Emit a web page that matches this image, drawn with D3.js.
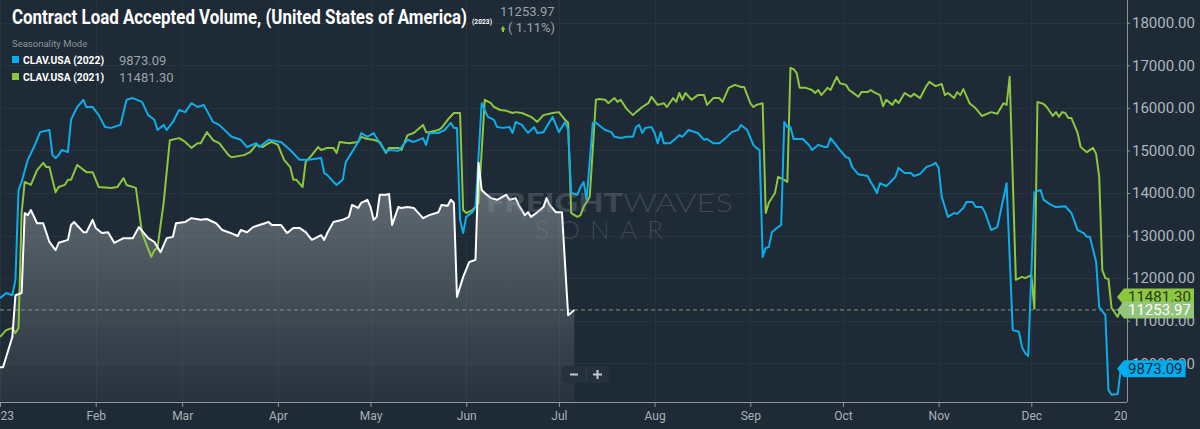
<!DOCTYPE html>
<html>
<head>
<meta charset="utf-8">
<script src="https://cdn.jsdelivr.net/npm/d3@7"></script>
<style>
  html, body { margin: 0; padding: 0; background: #1e2a35; }
  svg { display: block; font-family: Roboto, "Noto Sans", sans-serif; }
</style>
</head>
<body>
<svg id="chart" width="1200" height="429"></svg>
<script>
// seasonality mode: every year is drawn on the 2023 calendar, [day of year, volume]
const clav2023 = [
  [0,9910],[1,9910],[2,10150],[4,10620],[5,11600],[7,11650],[8,13530],[9,13480],[10,13600],[12,13290],
  [14,13290],[16,12850],[18,12660],[19,12830],[22,12900],[23,13250],[24,13320],[27,13080],[28,13080],[30,13370],
  [31,13180],[33,13060],[35,13080],[37,12830],[40,12940],[43,12940],[45,13200],[48,12940],[50,12850],[52,12610],
  [54,12940],[56,12970],[57,13290],[60,13320],[62,13410],[65,13370],[67,13390],[70,13290],[72,13130],[74,13080],
  [77,12990],[78,13130],[80,13080],[82,13200],[84,13250],[87,13320],[88,13250],[91,13250],[93,13060],[95,13180],
  [97,13180],[99,13080],[101,12900],[104,13010],[105,12900],[106,13060],[108,13320],[111,13370],[113,13440],[114,13720],
  [116,13650],[117,13770],[119,13840],[120,13670],[121,13370],[122,13440],[123,13960],[125,13960],[126,13980],[127,13250],
  [129,13670],[130,13650],[132,13670],[134,13650],[137,13410],[139,13480],[142,13550],[143,13720],[145,13700],[146,13840],
  [147,13770],[148,11560],[150,12030],[152,12380],[154,12430],[155,14710],[156,14070],[157,14000],[159,13880],[161,13840],
  [164,13960],[165,13840],[167,13880],[168,13720],[170,13480],[171,13550],[172,13440],[174,13550],[176,13670],[177,13880],
  [178,13720],[180,13550],[182,13550],[184,11130],[186,11253.97]
];

const clav2022 = [
  [0,11530],[2,11650],[4,11600],[5,11960],[6,14070],[7,14260],[9,14780],[11,15080],[13,15430],[16,15480],
  [17,14890],[18,14820],[19,14890],[20,15010],[22,14960],[23,15720],[25,16020],[27,16190],[28,16020],[30,16020],
  [32,15830],[34,15550],[36,15530],[39,15600],[41,16190],[43,16230],[46,16140],[48,15830],[50,15720],[51,15480],
  [53,15600],[54,15480],[56,15670],[58,15950],[60,15900],[62,16110],[64,16020],[66,16070],[69,15670],[71,15600],
  [75,15320],[78,15250],[80,15080],[83,15170],[84,15080],[87,15250],[91,15200],[94,15010],[97,14780],[100,14780],
  [104,14820],[105,14470],[106,14420],[108,14260],[109,14190],[111,14310],[112,14730],[114,14960],[116,15200],[117,15410],
  [119,15320],[121,15410],[123,15170],[125,14960],[126,15010],[129,14990],[130,15080],[132,15250],[134,15200],[137,15290],
  [138,15130],[139,15410],[142,15410],[144,15480],[146,15650],[147,15530],[148,15530],[149,13370],[150,13060],[151,13440],
  [153,13550],[154,13670],[156,16110],[158,15790],[160,15720],[161,15550],[163,15530],[165,15550],[166,15410],[167,15670],
  [169,15600],[171,15410],[173,15550],[174,15410],[176,15430],[179,15790],[181,15430],[183,15670],[184,15480],[185,14000],
  [187,13960],[188,14140],[189,14260],[190,13850],[192,15650],[193,15650],[196,15480],[198,15430],[199,15320],[201,15290],
  [203,15320],[205,15320],[206,15550],[207,15600],[208,15410],[209,15530],[211,15550],[212,15410],[213,15170],[214,15430],
  [215,15170],[217,15170],[219,15290],[220,15360],[221,15320],[223,15480],[226,15410],[228,15250],[229,15270],[231,15170],
  [233,15170],[235,15290],[237,15430],[239,15480],[240,15600],[242,15480],[244,15130],[245,15060],[246,15010],[247,12500],
  [248,12710],[249,12730],[250,13080],[252,13200],[253,13250],[254,15670],[255,15550],[256,15550],[257,15270],[260,15270],
  [262,15130],[263,15010],[265,15130],[267,15080],[268,15080],[269,15290],[270,15200],[272,15010],[274,14840],[275,14820],
  [276,14610],[278,14440],[281,14400],[282,14260],[283,14140],[284,14000],[285,14230],[287,14160],[288,14230],[290,14380],
  [291,14590],[293,14470],[295,14470],[296,14400],[298,14450],[300,14610],[302,14660],[303,14710],[304,14590],[305,13910],
  [307,13440],[309,13530],[310,13510],[312,13650],[313,13790],[315,13790],[316,13670],[318,13670],[319,13550],[321,13130],
  [323,13200],[326,14230],[328,10780],[330,10740],[331,10380],[332,10240],[333,10170],[335,14020],[337,14070],[338,13840],
  [340,13740],[342,13670],[345,13690],[347,13530],[349,13130],[351,13060],[352,12970],[353,12970],[355,12380],[356,11320],
  [358,11130],[359,9370],[360,9260],[362,9280],[363,9873.09]
];

const clav2021 = [
  [0,10620],[2,10780],[4,10830],[5,10710],[6,10830],[7,13530],[8,14260],[10,14190],[12,14540],[14,14710],
  [15,14610],[16,14610],[17,14310],[18,14020],[19,14140],[21,14190],[22,14310],[23,14310],[25,14660],[28,14490],
  [30,14490],[32,14140],[36,14120],[38,14140],[40,14350],[41,14190],[44,14120],[46,13060],[49,12500],[50,12660],
  [51,12710],[53,13770],[55,15240],[58,15290],[60,15200],[62,15060],[64,15170],[65,15170],[67,15430],[69,15240],
  [71,15170],[74,14890],[75,14840],[79,14890],[81,14960],[83,15130],[85,15080],[87,15170],[88,15200],[90,15130],
  [92,14780],[94,14610],[95,14310],[96,14310],[98,14140],[99,14730],[101,14890],[103,15080],[104,15010],[106,15060],
  [108,15060],[109,14940],[110,15200],[113,15170],[116,15200],[117,15320],[119,15270],[121,15250],[123,15200],[125,14940],
  [126,15060],[129,15060],[130,15010],[132,15360],[134,15410],[137,15600],[138,15430],[139,15430],[142,15480],[143,15530],
  [145,15720],[147,15880],[149,15880],[150,13600],[151,13530],[153,13600],[154,13670],[155,13770],[157,16190],[159,16110],
  [160,16020],[162,15950],[164,15930],[166,15880],[167,15900],[169,15880],[172,15790],[174,15670],[176,15830],[179,15880],
  [181,15900],[183,15720],[184,15650],[185,13530],[187,13440],[188,13480],[189,13670],[191,13910],[193,16190],[194,16210],
  [196,16190],[197,16110],[199,16230],[200,16140],[201,16190],[203,15970],[205,15830],[206,15900],[208,16020],[210,16110],
  [211,16260],[213,16070],[215,16110],[216,16020],[218,16230],[219,16140],[220,16350],[221,16190],[222,16350],[224,16190],
  [226,16300],[228,16300],[229,16070],[231,16230],[233,16230],[234,16140],[236,16470],[238,16540],[240,16490],[241,16490],
  [243,16110],[244,16020],[245,16070],[247,16110],[248,13530],[249,13770],[251,14000],[252,14380],[254,14310],[255,14260],
  [256,16940],[257,16910],[258,16820],[259,16470],[261,16470],[263,16420],[264,16350],[265,16420],[266,16300],[268,16470],
  [269,16420],[271,16730],[272,16580],[274,16540],[275,16420],[276,16370],[278,16260],[279,16370],[281,16370],[282,16420],
  [283,16370],[285,16300],[286,16040],[287,16190],[289,16070],[290,16190],[291,16110],[293,16350],[295,16260],[296,16330],
  [298,16230],[300,16510],[301,16610],[303,16510],[305,16560],[306,16300],[307,16350],[309,16230],[310,16370],[311,16300],
  [312,16440],[314,16110],[316,15990],[318,15810],[321,15900],[323,15860],[325,16110],[326,16070],[327,16730],[329,11960],
  [331,12030],[332,12000],[334,12070],[335,11280],[336,16140],[338,16090],[339,16020],[341,15810],[342,15900],[343,15790],
  [344,15900],[345,15880],[346,15760],[347,15760],[349,15410],[350,15080],[352,14960],[354,15060],[355,14920],[356,14380],
  [357,12190],[358,12000],[359,11980],[360,11300],[362,11090],[364,11481.3]
];

const yTicks = [10000, 11000, 12000, 13000, 14000, 15000, 16000, 17000, 18000];
const monthLabels = ["2023", "Feb", "Mar", "Apr", "May", "Jun", "Jul", "Aug", "Sep", "Oct", "Nov", "Dec", "2024"];

const width = 1200;
const height = 429;
const plotRight = 1127;
const plotBottom = 402;
const bg = "#1e2a35";
const blue = "#0daeea";
const green = "#8dc63f";

const dayDate = (d) => new Date(2023, 0, 1 + d);
const fmt = d3.format(".2f");

const x = d3.scaleTime()
  .domain([new Date(2023, 0, 1), new Date(2024, 0, 1)])
  .range([0, plotRight]);

const y = d3.scaleLinear()
  .domain([9091, 18534])
  .range([plotBottom, 0]);

const svg = d3.select("#chart");
const defs = svg.append("defs");

defs.append("clipPath").attr("id", "plot-clip")
  .append("rect").attr("width", plotRight).attr("height", plotBottom);

// the x labels are cut at the right axis, so only "20" of 2024 shows
defs.append("clipPath").attr("id", "xaxis-clip")
  .append("rect").attr("x", 0).attr("y", plotBottom - 2).attr("width", plotRight).attr("height", 30);

const fade = defs.append("linearGradient")
  .attr("id", "area-fade")
  .attr("gradientUnits", "userSpaceOnUse")
  .attr("x1", 0).attr("x2", 0)
  .attr("y1", y(14000)).attr("y2", plotBottom);
fade.append("stop").attr("offset", 0).attr("stop-color", "#aab0b6").attr("stop-opacity", 0.46);
fade.append("stop").attr("offset", 1).attr("stop-color", "#aab0b6").attr("stop-opacity", 0.06);

svg.append("rect").attr("width", width).attr("height", height).attr("fill", bg);

// grid
const months = d3.timeMonth.range(new Date(2023, 0, 1), new Date(2024, 0, 2));
const grid = svg.append("g").attr("stroke", "#27333e").attr("stroke-width", 1);
grid.selectAll(".hg").data(yTicks).join("line")
  .attr("x1", 0).attr("x2", plotRight)
  .attr("y1", (d) => Math.round(y(d)) + 0.5).attr("y2", (d) => Math.round(y(d)) + 0.5);
grid.selectAll(".vg").data(months).join("line")
  .attr("x1", (d) => Math.round(x(d)) + 0.5).attr("x2", (d) => Math.round(x(d)) + 0.5)
  .attr("y1", 0).attr("y2", plotBottom);

const plot = svg.append("g").attr("clip-path", "url(#plot-clip)");

// 2023 area
const area = d3.area()
  .x((d) => x(dayDate(d[0])))
  .y0(plotBottom)
  .y1((d) => y(d[1]));
plot.append("path").datum(clav2023).attr("d", area).attr("fill", "url(#area-fade)");

// watermark
const wm = svg.append("g").attr("fill", "#8d98a3").attr("fill-opacity", 0.28)
  .attr("font-family", "Lato, Roboto, sans-serif");
wm.append("text").attr("x", 486).attr("y", 212)
  .attr("font-size", 26).attr("textLength", 247).attr("lengthAdjust", "spacingAndGlyphs")
  .call((t) => {
    t.append("tspan").attr("font-weight", 900).text("FREIGHT");
    t.append("tspan").attr("font-weight", 300).text("WAVES");
  });
wm.append("text").attr("x", 535).attr("y", 239)
  .attr("font-size", 26).attr("font-weight", 300)
  .attr("textLength", 128).attr("lengthAdjust", "spacing")
  .text("SONAR");

// dashed reference at the latest 2023 value
const last2023 = clav2023[clav2023.length - 1][1];
const prev2023 = clav2023[clav2023.length - 2][1];
plot.append("line")
  .attr("x1", 0).attr("x2", plotRight)
  .attr("y1", y(last2023)).attr("y2", y(last2023))
  .attr("stroke", "#9aa58f").attr("stroke-width", 1).attr("stroke-dasharray", "4,3").attr("opacity", 0.85);

const line = d3.line()
  .x((d) => x(dayDate(d[0])))
  .y((d) => y(d[1]));

const series = [
  { data: clav2021, color: green },
  { data: clav2022, color: blue },
  { data: clav2023, color: "#ffffff" }
];

plot.selectAll(".series").data(series).join("path")
  .attr("d", (s) => line(s.data))
  .attr("fill", "none")
  .attr("stroke", (s) => s.color)
  .attr("stroke-width", 2)
  .attr("stroke-linejoin", "round");

// bottom axis
const xAxis = svg.append("g").attr("clip-path", "url(#xaxis-clip)")
  .append("g")
  .attr("transform", `translate(0,${plotBottom})`)
  .call(d3.axisBottom(x).tickValues(months).tickSize(5).tickPadding(4)
    .tickFormat((d, i) => monthLabels[i]));
xAxis.select(".domain").attr("stroke", "#8c959d").attr("d", `M0,0.5H${plotRight}`);
xAxis.selectAll(".tick line").attr("stroke", "#8c959d");
xAxis.selectAll(".tick text")
  .attr("fill", "#a9b1b8").attr("font-size", 12)
  .attr("font-family", "Roboto, sans-serif");

// right axis
const yAxis = svg.append("g")
  .attr("transform", `translate(${plotRight},0)`)
  .call(d3.axisRight(y).tickValues(yTicks).tickSize(3).tickPadding(2).tickFormat(fmt));
yAxis.select(".domain").attr("stroke", "#8c959d").attr("d", `M0.5,0V${plotBottom}`);
yAxis.selectAll(".tick line").attr("stroke", "#8c959d");
yAxis.selectAll(".tick text")
  .attr("fill", "#aeb6bd").attr("font-size", 15)
  .attr("font-family", "Roboto, sans-serif");

// end-of-series tags
const tags = [
  { value: clav2021[clav2021.length - 1][1], fill: green, text: "#2c3a1c" },
  { value: clav2022[clav2022.length - 1][1], fill: "#00aeef", text: "#13253a" },
  { value: last2023, fill: "#93c67c", text: "#ffffff" }
];
tags.forEach((t) => { t.pos = y(t.value); });
if (Math.abs(tags[0].pos - tags[2].pos) < 13) tags[0].pos = tags[2].pos - 13;

const tagLayer = svg.append("g").attr("font-size", 15).attr("font-family", "Roboto, sans-serif");
tags.forEach((t) => {
  const g = tagLayer.append("g").attr("transform", `translate(0,${t.pos})`);
  const path = g.append("path").attr("fill", t.fill);
  const label = g.append("text").attr("x", 1128).attr("y", 5.5).attr("fill", t.text).text(fmt(t.value));
  const w = label.node().getComputedTextLength();
  const r = 1128 + w + 3;
  path.attr("d", `M1117,0L1124,-8.5H${r}V8.5H1124Z`);
});

// zoom control
const zc = svg.append("g").attr("transform", "translate(562,366)");
zc.append("rect").attr("width", 47).attr("height", 17).attr("rx", 2).attr("fill", "#24303b");
zc.append("line").attr("x1", 24.5).attr("x2", 24.5).attr("y1", 3).attr("y2", 14).attr("stroke", "#34414c");
zc.append("rect").attr("x", 8).attr("y", 7.5).attr("width", 8).attr("height", 2).attr("fill", "#c3c9ce");
zc.append("rect").attr("x", 31).attr("y", 7.5).attr("width", 9).attr("height", 2).attr("fill", "#c3c9ce");
zc.append("rect").attr("x", 34.5).attr("y", 4).attr("width", 2).attr("height", 9).attr("fill", "#c3c9ce");

// header
const head = svg.append("g");
head.append("text").attr("x", 12).attr("y", 24)
  .attr("fill", "#ffffff").attr("font-size", 20).attr("font-weight", 700)
  .attr("textLength", 455).attr("lengthAdjust", "spacingAndGlyphs")
  .text("Contract Load Accepted Volume, (United States of America)");
head.append("text").attr("x", 472).attr("y", 24)
  .attr("fill", "#ffffff").attr("font-size", 8).attr("font-weight", 700)
  .attr("textLength", 20).attr("lengthAdjust", "spacingAndGlyphs")
  .text("(2023)");
head.append("text").attr("x", 500).attr("y", 16)
  .attr("fill", "#9aa3ab").attr("font-size", 13)
  .text(fmt(last2023));
head.append("path").attr("d", "M500.5,29.5L503,26L505.5,29.5H504V32H502V29.5Z").attr("fill", green);
head.append("text").attr("x", 508).attr("y", 32)
  .attr("fill", "#9aa3ab").attr("font-size", 13)
  .text(`( ${d3.format(".2f")((last2023 / prev2023 - 1) * 100)}%)`);

head.append("text").attr("x", 12).attr("y", 47)
  .attr("fill", "#8b949c").attr("font-size", 9.5)
  .text("Seasonality Mode");

const legendRows = [
  { name: "CLAV.USA (2022)", color: "#00aeef", value: clav2022[clav2022.length - 1][1] },
  { name: "CLAV.USA (2021)", color: green, value: clav2021[clav2021.length - 1][1] }
];
const legend = head.selectAll(".leg").data(legendRows).join("g")
  .attr("transform", (d, i) => `translate(12,${56 + i * 17})`);
legend.append("rect").attr("width", 7).attr("height", 7).attr("fill", (d) => d.color);
legend.append("text").attr("x", 11).attr("y", 7.5)
  .attr("fill", "#ffffff").attr("font-size", 11).attr("font-weight", 700)
  .attr("textLength", 81).attr("lengthAdjust", "spacingAndGlyphs")
  .text((d) => d.name);
legend.append("text").attr("x", 107).attr("y", 8.5)
  .attr("fill", "#9aa3ab").attr("font-size", 13)
  .text((d) => fmt(d.value));
</script>
</body>
</html>
